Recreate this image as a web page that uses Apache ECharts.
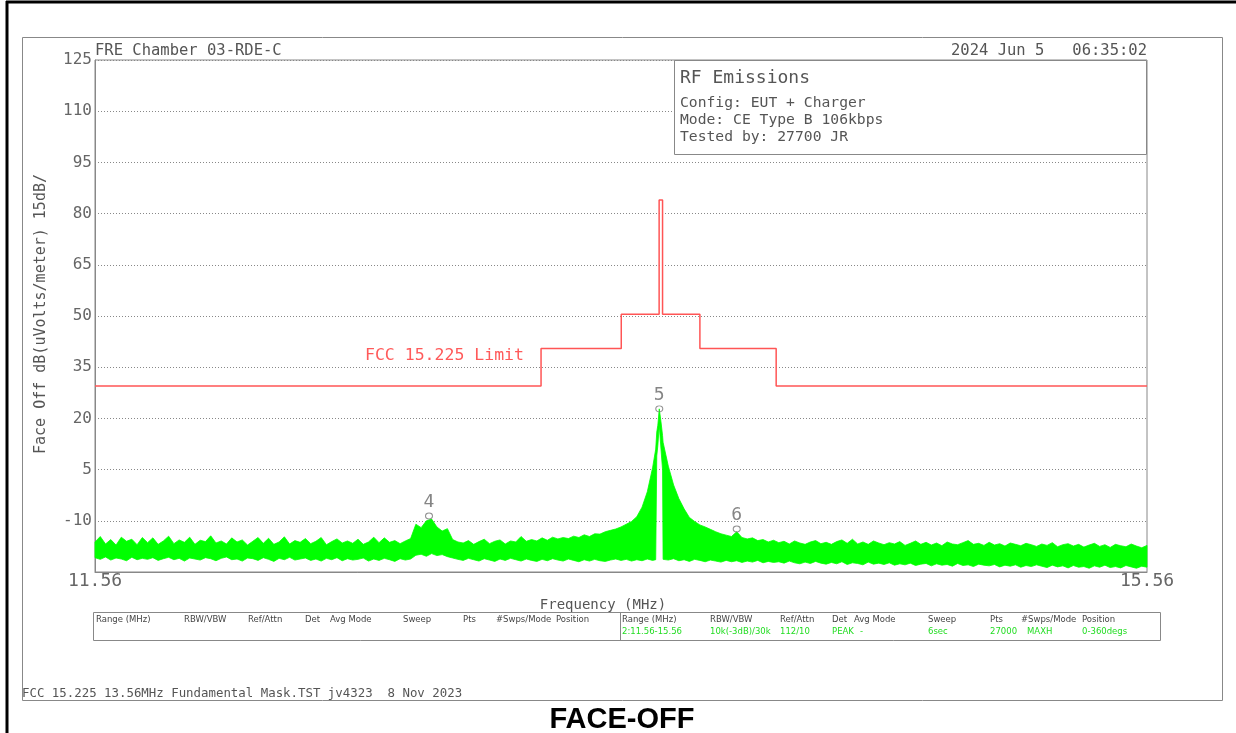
<!DOCTYPE html>
<html>
<head>
<meta charset="utf-8">
<title>FACE-OFF</title>
<script src="https://cdn.jsdelivr.net/npm/echarts@6/dist/echarts.min.js"></script>
<style>
  html, body { margin: 0; padding: 0; background: #fff; }
  #chart { width: 1236px; height: 733px; }
</style>
</head>
<body>
<div id="chart"></div>
<script>
// axis range (MHz / dBuV/m)
const freqMin = 11.56, freqMax = 15.56;
const levelMin = -25, levelMax = 125, levelStep = 15;

// FCC 15.225 mask: band edges and level of each band
const limitEdges = [11.56, 13.256, 13.561, 13.705, 13.718, 13.860, 14.150, 15.56];
const limitLevels = [29.5, 40.5, 50.5, 84, 50.5, 40.5, 29.5];

// measured trace, one sample every 20 kHz from 11.56 MHz (peak / floor of the noise band)
const sweepStart = 11.56, sweepStep = 0.02;
const traceHi = [
  -16.2, -14.6, -16.8, -15.5, -17.1, -14.8, -16.0, -15.4, -17.0, -14.9,
  -16.4, -15.0, -16.9, -15.9, -14.5, -16.7, -15.6, -16.3, -14.8, -16.9,
  -15.7, -16.1, -14.4, -16.5, -15.9, -16.8, -15.0, -16.2, -15.6, -17.1,
  -16.0, -14.9, -16.6, -15.1, -16.9, -16.2, -14.7, -16.8, -15.8, -16.3,
  -15.2, -16.7, -16.0, -14.9, -17.0, -16.1, -15.3, -16.5, -15.9, -16.6,
  -15.4, -16.9, -16.2, -14.8, -16.4, -15.0, -16.3, -15.8, -16.7, -15.9,
  -15.2, -11.0, -12.0, -10.0, -9.5, -11.8, -13.0, -12.3, -15.5, -16.2,
  -16.5, -15.8, -16.9, -16.1, -15.4, -16.7, -16.0, -15.6, -16.8, -15.9,
  -16.2, -14.6, -16.0, -15.5, -15.9, -15.0, -15.7, -14.8, -15.3, -14.9,
  -15.2, -14.5, -14.9, -14.1, -14.6, -13.8, -13.9, -13.2, -12.8, -12.4,
  -11.8, -11.0, -10.2, -8.8, -6.0, -1.5, 5.5, 18, 13, 6,
  0.5, -3.5, -6.5, -9.0, -10.2, -11.2, -11.8, -12.5, -13.2, -13.8,
  -14.2, -14.6, -13.2, -14.9, -15.3, -15.0, -15.8, -15.5, -16.2, -15.7,
  -16.4, -16.0, -16.8, -15.9, -16.5, -16.9, -16.2, -15.8, -16.7, -16.3,
  -16.9, -16.1, -15.6, -16.6, -15.4, -16.8, -16.2, -16.9, -15.9, -16.5,
  -17.0, -16.4, -16.8, -16.1, -17.2, -16.6, -15.9, -16.9, -16.3, -17.1,
  -16.5, -17.3, -16.2, -16.8, -17.0, -16.4, -15.8, -16.9, -16.6, -17.2,
  -16.3, -17.1, -16.7, -17.4, -16.5, -16.9, -17.3, -16.6, -17.0, -17.5,
  -16.8, -17.2, -16.4, -17.6, -17.0, -16.7, -17.4, -16.9, -17.7, -17.1,
  -16.6, -17.5, -17.0, -17.8, -16.9, -17.3, -17.6, -16.8, -17.4, -17.9,
  -17.2
];
const traceLo = [
  -20.8, -21.3, -20.6, -21.5, -20.9, -21.2, -21.7, -20.7, -21.4, -21.0,
  -21.3, -20.8, -21.6, -21.1, -20.7, -21.4, -21.0, -21.8, -20.9, -21.2,
  -21.5, -20.8, -21.1, -21.7, -21.0, -20.6, -21.4, -21.2, -21.8, -20.9,
  -21.1, -21.6, -20.8, -21.3, -21.9, -21.0, -21.4, -20.7, -21.5, -21.2,
  -20.9, -21.6, -21.2, -21.8, -21.0, -21.4, -20.8, -21.7, -21.1, -21.5,
  -21.3, -20.9, -21.8, -21.2, -21.6, -21.0, -21.4, -21.9, -21.1, -21.5,
  -21.2, -20.1, -19.8, -20.4, -19.6, -20.2, -19.9, -20.5, -20.9, -21.3,
  -21.6, -21.0, -21.4, -21.8, -21.1, -21.5, -21.9, -21.2, -21.6, -21.0,
  -21.4, -21.8, -21.2, -21.6, -21.9, -21.3, -21.7, -21.1, -21.5, -21.8,
  -21.2, -21.6, -22.0, -21.4, -21.8, -21.3, -21.7, -21.9, -21.5, -21.2,
  -21.6, -21.3, -21.8, -21.4, -21.7, -21.2, -21.6, 12, -21.3, -21.5,
  -21.1, -21.7, -21.4, -21.9, -21.3, -21.6, -22.0, -21.5, -21.8, -22.1,
  -21.6, -22.0, -21.7, -22.2, -21.8, -22.1, -21.6, -22.3, -21.9, -22.2,
  -22.0, -22.4, -21.8, -22.3, -22.6, -22.1, -22.5, -21.9, -22.4, -22.7,
  -22.2, -22.6, -22.0, -22.8, -22.3, -22.5, -22.9, -22.1, -22.7, -22.4,
  -22.8, -22.3, -23.0, -22.6, -22.9, -22.4, -23.1, -22.7, -22.5, -23.2,
  -22.6, -23.0, -22.8, -23.3, -22.5, -23.1, -22.9, -23.4, -22.7, -23.0,
  -23.2, -22.8, -23.5, -23.0, -23.3, -22.9, -23.6, -23.1, -23.4, -22.9,
  -23.3, -23.7, -23.0, -23.5, -23.2, -23.8, -23.1, -23.6, -23.4, -23.9,
  -23.2, -23.6, -23.0, -23.7, -23.4, -23.8, -23.1, -23.5, -23.9, -23.3,
  -23.6
];
// extra samples around the 13.56 carrier
const coreFreq = [13.692, 13.696, 13.7055, 13.712, 13.718];
const coreHi = [11, 16, 22.8, 19, 15];
const coreLo = [-21.4, 9, 18, 11, 5];

// markers
const markerFreq = [12.83, 13.7055, 14.0];
const markerLevel = [-8.6, 22.8, -12.4];
const markerName = ['4', '5', '6'];

// settings table under the plot
const tableHeads = ['Range (MHz)', 'RBW/VBW', 'Ref/Attn', 'Det', 'Avg Mode', 'Sweep', 'Pts', '#Swps/Mode', 'Position'];
const tableValues = ['2:11.56-15.56', '10k(-3dB)/30k', '112/10', 'PEAK', '-', '6sec', '27000', 'MAXH', '0-360degs'];
const headXLeft = [96, 184, 248, 305, 330, 403, 463, 496, 556];
const headXRight = [622, 710, 780, 832, 854, 928, 990, 1021, 1082];
const valueX = [622, 710, 780, 832, 860, 928, 990, 1027, 1082];

const mono = '"DejaVu Sans Mono", monospace';
const textGray = '#555';

// axes are offset so both start at 0 (ticks counted from min)
function pt(f, v) { return [f - freqMin, v - levelMin]; }

let limitData = [];
for (let k = 0; k < limitLevels.length; k++) {
  limitData.push(pt(limitEdges[k], limitLevels[k]));
  limitData.push(pt(limitEdges[k + 1], limitLevels[k]));
}

let samples = traceHi.map(function (h, i) {
  return { f: +(sweepStart + i * sweepStep).toFixed(4), hi: h, lo: traceLo[i] };
});
coreFreq.forEach(function (f, i) { samples.push({ f: f, hi: coreHi[i], lo: coreLo[i] }); });
samples.sort(function (a, b) { return a.f - b.f; });

let markerData = markerFreq.map(function (f, i) {
  return pt(f, markerLevel[i]).concat([markerName[i]]);
});

function txt(x, y, s, opt) {
  return {
    type: 'text', x: x, y: y + 2, z: 110,
    style: Object.assign({
      text: s, fill: textGray, font: '15px ' + mono,
      textAlign: 'left', textVerticalAlign: 'middle'
    }, opt || {})
  };
}

let graphics = [
  { type: 'line', z: 100, shape: { x1: 6, y1: 2, x2: 1236, y2: 2 }, style: { stroke: '#000', lineWidth: 3 } },
  { type: 'line', z: 100, shape: { x1: 7, y1: 1, x2: 7, y2: 733 }, style: { stroke: '#000', lineWidth: 3 } },
  { type: 'rect', z: 1, shape: { x: 22.5, y: 37.5, width: 1200, height: 663 }, style: { fill: null, stroke: '#888', lineWidth: 1 } },
  { type: 'rect', z: 100, shape: { x: 674.5, y: 60.5, width: 472, height: 94 }, style: { fill: '#fff', stroke: '#888', lineWidth: 1 } },
  txt(95, 49, 'FRE Chamber 03-RDE-C', { font: '15.5px ' + mono }),
  txt(1147, 49, '2024 Jun 5   06:35:02', { font: '15.5px ' + mono, textAlign: 'right' }),
  txt(680, 76, 'RF Emissions', { font: '18px ' + mono }),
  txt(680, 101, 'Config: EUT + Charger', { font: '14.7px ' + mono }),
  txt(680, 118, 'Mode: CE Type B 106kbps', { font: '14.7px ' + mono }),
  txt(680, 135, 'Tested by: 27700 JR', { font: '14.7px ' + mono }),
  txt(365, 354, 'FCC 15.225 Limit', { font: '16.5px ' + mono, fill: '#ff5a5a' }),
  txt(603, 603, 'Frequency (MHz)', { font: '14px ' + mono, textAlign: 'center' }),
  {
    type: 'text', x: 41, y: 314, rotation: Math.PI / 2, z: 110,
    style: { text: 'Face Off dB(uVolts/meter) 15dB/', fill: textGray, font: '15px ' + mono, textAlign: 'center', textVerticalAlign: 'middle' }
  },
  { type: 'rect', z: 100, shape: { x: 93.5, y: 612.5, width: 1067, height: 28 }, style: { fill: null, stroke: '#888', lineWidth: 1 } },
  { type: 'line', z: 100, shape: { x1: 620.5, y1: 612, x2: 620.5, y2: 641 }, style: { stroke: '#888', lineWidth: 1 } },
  txt(22, 692, 'FCC 15.225 13.56MHz Fundamental Mask.TST jv4323  8 Nov 2023', { font: '12.4px ' + mono }),
  txt(622, 718, 'FACE-OFF', { font: 'bold 29px "Liberation Sans", Arial, sans-serif', fill: '#000', textAlign: 'center' })
];
tableHeads.forEach(function (h, i) {
  graphics.push(txt(headXLeft[i], 618, h, { font: '8.5px "DejaVu Sans", sans-serif', fill: '#444' }));
  graphics.push(txt(headXRight[i], 618, h, { font: '8.5px "DejaVu Sans", sans-serif', fill: '#444' }));
  graphics.push(txt(valueX[i], 630, tableValues[i], { font: '8.5px "DejaVu Sans", sans-serif', fill: '#22dd22' }));
});

let myChart = echarts.init(document.getElementById('chart'));
myChart.setOption({
  animation: false,
  backgroundColor: '#fff',
  grid: { left: 95, right: 89, top: 60, bottom: 161, show: true, borderColor: '#888', borderWidth: 1, backgroundColor: 'transparent' },
  xAxis: {
    type: 'value',
    min: 0,
    max: freqMax - freqMin,
    interval: freqMax - freqMin,
    axisLine: { lineStyle: { color: '#888' } },
    axisTick: { show: false },
    splitLine: { show: false },
    axisLabel: {
      color: '#666', fontFamily: mono, fontSize: 18, margin: 0,
      formatter: function (v) { return (v + freqMin).toFixed(2); }
    }
  },
  yAxis: {
    type: 'value',
    min: 0,
    max: levelMax - levelMin,
    interval: levelStep,
    axisLine: { show: true, lineStyle: { color: '#888' } },
    axisTick: { show: false },
    splitLine: { lineStyle: { color: '#888', type: [1, 2], width: 1 } },
    axisLabel: {
      color: '#666', fontFamily: mono, fontSize: 16, margin: 3,
      padding: [5, 0, 0, 0],
      formatter: function (v) { return v === 0 ? '' : String(v + levelMin); }
    }
  },
  graphic: graphics,
  series: [
    {
      name: 'trace',
      type: 'custom',
      z: 2,
      silent: true,
      data: [[0, 0]],
      renderItem: function (params, api) {
        const upper = samples.map(function (s) { return api.coord(pt(s.f, s.hi)); });
        const lower = samples.slice().reverse().map(function (s) { return api.coord(pt(s.f, s.lo)); });
        return {
          type: 'polygon',
          shape: { points: upper.concat(lower) },
          style: { fill: '#00ff00', stroke: '#00ff00', lineWidth: 0.8 }
        };
      }
    },
    {
      name: 'FCC 15.225 Limit',
      type: 'line',
      z: 3,
      data: limitData,
      symbol: 'none',
      lineStyle: { color: '#ff5555', width: 1.5 }
    },
    {
      name: 'markers',
      type: 'scatter',
      z: 4,
      data: markerData,
      symbol: 'circle',
      symbolSize: [7, 6],
      itemStyle: { color: 'rgba(0,0,0,0)', borderColor: '#777', borderWidth: 1 },
      label: {
        show: true, position: 'top', distance: 1,
        color: '#666', fontFamily: mono, fontSize: 18,
        formatter: function (p) { return p.value[2]; }
      }
    }
  ]
});
window.onresize = myChart.resize;
</script>
</body>
</html>
